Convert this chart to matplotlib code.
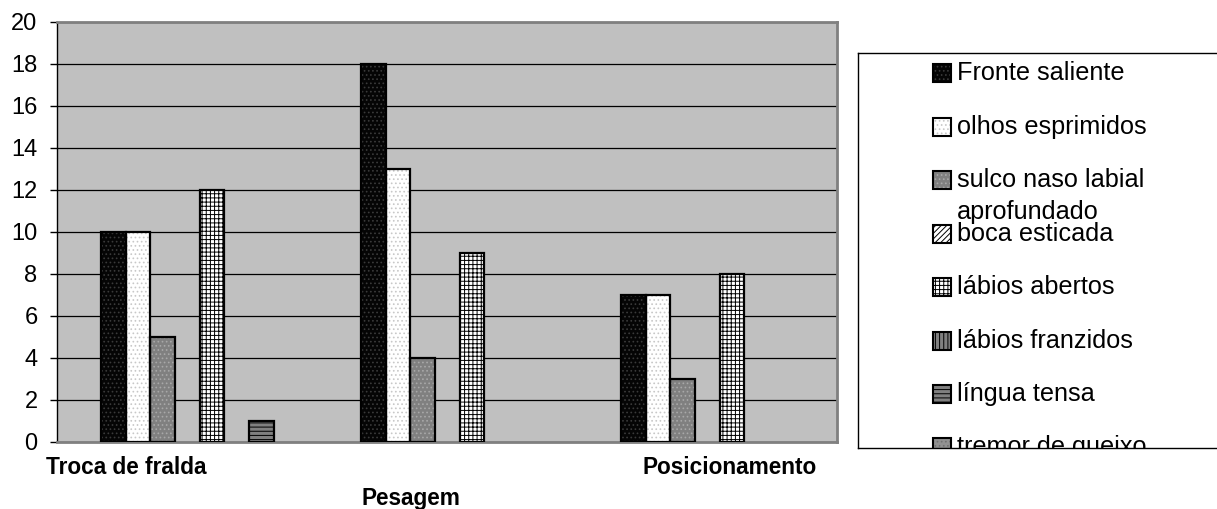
"""Clustered bar chart of facial pain indicators per handling procedure."""

import textwrap

from matplotlib import pyplot as plt
from matplotlib.patches import Rectangle
import numpy as np

# Data
categories = ["Troca de fralda", "Pesagem", "Posicionamento"]
series_names = [
    "Fronte saliente",
    "olhos esprimidos",
    "sulco naso labial aprofundado",
    "boca esticada",
    "lábios abertos",
    "lábios franzidos",
    "língua tensa",
    "tremor de queixo",
]
fronte_saliente = [10, 18, 7]
olhos_esprimidos = [10, 13, 7]
sulco_naso_labial = [5, 4, 3]
boca_esticada = [0, 0, 0]
labios_abertos = [12, 9, 8]
labios_franzidos = [0, 0, 0]
lingua_tensa = [1, 0, 0]
tremor_de_queixo = [0, 0, 0]

values = [
    fronte_saliente,
    olhos_esprimidos,
    sulco_naso_labial,
    boca_esticada,
    labios_abertos,
    labios_franzidos,
    lingua_tensa,
    tremor_de_queixo,
]

# Excel-like fill patterns: (face colour, hatch, hatch colour)
styles = [
    ("#050505", "....", "#3a3a3a"),
    ("#ffffff", "....", "#c8c8c8"),
    ("#808080", "....", "#a8a8a8"),
    ("#ffffff", "//////", "#000000"),
    ("#ffffff", "++++", "#000000"),
    ("#808080", "||||", "#000000"),
    ("#808080", "----", "#000000"),
    ("#909090", "....", "#707070"),
]

plt.rcParams["font.family"] = ["Liberation Sans", "DejaVu Sans"]
plt.rcParams["hatch.linewidth"] = 0.7

W, H = 1217, 509
fig = plt.figure(figsize=(W / 100, H / 100), dpi=100)
fig.patch.set_facecolor("white")

# Plot area in pixels: left 57, right 837, top 22, bottom 442
ax = fig.add_axes([57 / W, (H - 442) / H, (837 - 57) / W, (442 - 22) / H])
ax.set_facecolor("#c0c0c0")

x = np.arange(len(categories))
bar_w = 0.095
first_offset = 0.169  # from category left edge to the first bar

for k, (vals, (face, hatch, hcol)) in enumerate(zip(values, styles)):
    vals = np.asarray(vals, dtype=float)
    left = x - 0.5 + first_offset + k * bar_w
    lw = np.where(vals > 0, 1.6, 0.0)
    ax.bar(left, vals, width=bar_w, align="edge", color=face,
           hatch=hatch, edgecolor=hcol, linewidth=0, zorder=3)
    ax.bar(left, vals, width=bar_w, align="edge", fill=False,
           edgecolor="black", linewidth=lw, zorder=4)

ax.set_xlim(-0.5, len(categories) - 0.5)
ax.set_ylim(0, 20)
ax.set_yticks(np.arange(0, 21, 2))
ax.yaxis.grid(True, color="black", linewidth=0.9, zorder=1)
ax.set_axisbelow(True)
ax.set_xticks([])
ax.tick_params(axis="y", labelsize=17, length=5, width=1, pad=9,
               direction="out", color="black")

for side in ("top", "right", "bottom"):
    ax.spines[side].set_color("#808080")
    ax.spines[side].set_linewidth(2)
ax.spines["left"].set_color("black")
ax.spines["left"].set_linewidth(1)

# Staggered category labels, as Excel placed them
label_shift = [-0.232, -0.137, 0.086]
label_drop = [25, 56.6, 25]  # pixels below the plot area
for i, name in enumerate(categories):
    ax.annotate(name, xy=(x[i] + label_shift[i], 0),
                xycoords=("data", "axes fraction"),
                xytext=(0, -label_drop[i] * 0.72), textcoords="offset points",
                ha="center", va="center", fontsize=16.3, fontweight="bold")

# Legend box, clipped by its frame like the original
lg_left, lg_top, lg_bottom = 858, 53, 448
lg_w = W - lg_left + 20
lg = fig.add_axes([lg_left / W, (H - lg_bottom) / H, lg_w / W,
                   (lg_bottom - lg_top) / H])
lg.set_xlim(0, lg_w)
lg.set_ylim(lg_bottom - lg_top, 0)
lg.set_xticks([])
lg.set_yticks([])
lg.set_facecolor("white")
for side in lg.spines.values():
    side.set_color("black")
    side.set_linewidth(1)

row0, row_step, sw, line_gap = 20.3, 53.45, 18, 31.7
for k, (name, (face, hatch, hcol)) in enumerate(zip(series_names, styles)):
    yc = row0 + k * row_step
    lg.add_patch(Rectangle((75, yc - sw / 2), sw, sw, facecolor=face,
                           hatch=hatch, edgecolor=hcol, linewidth=0))
    lg.add_patch(Rectangle((75, yc - sw / 2), sw, sw, fill=False,
                           edgecolor="black", linewidth=1.5))
    for j, line in enumerate(textwrap.wrap(name, 18)):
        lg.text(99, yc + j * line_gap, line, fontsize=18.2,
                ha="left", va="center", clip_on=True)

fig.savefig("out.png", dpi=100, facecolor="white")
